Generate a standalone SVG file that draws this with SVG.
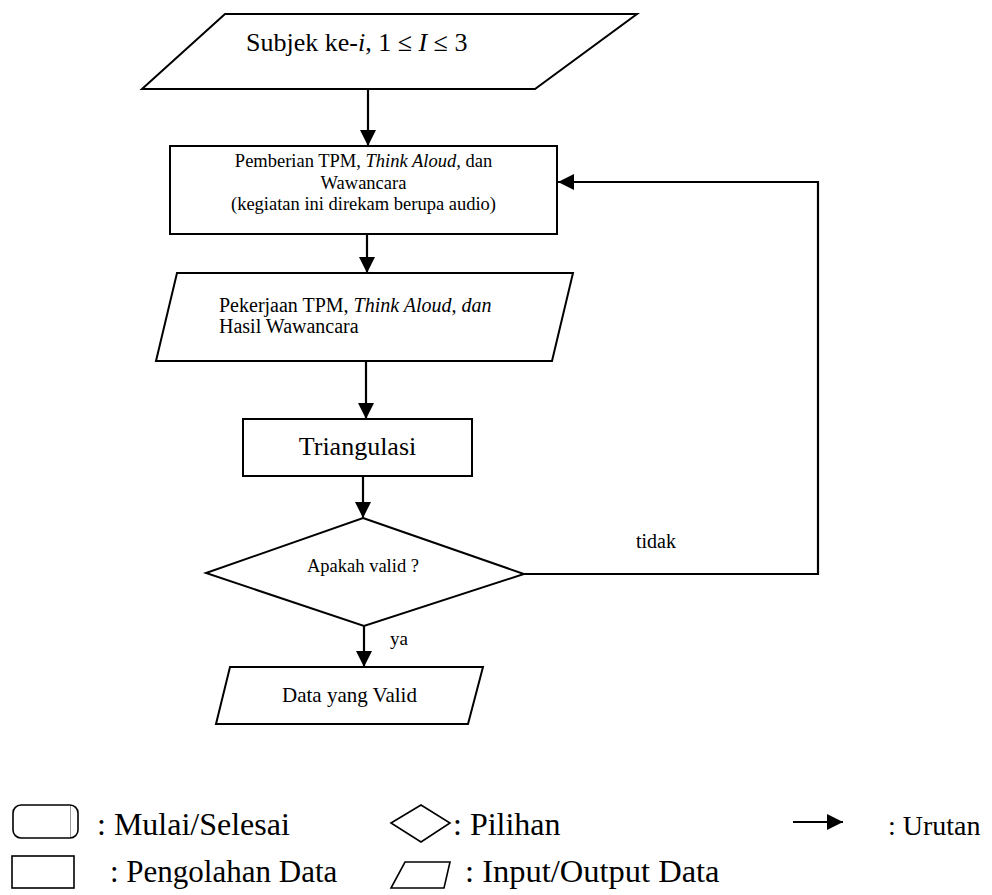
<svg xmlns="http://www.w3.org/2000/svg" width="992" height="895" viewBox="0 0 992 895">
  <style>
    .shape { fill: #ffffff; stroke: #000000; stroke-width: 2; }
    .thin { fill: #ffffff; stroke: #000000; stroke-width: 1.6; }
    .flow { fill: none; stroke: #000000; stroke-width: 2.2; }
    text { font-family: "Liberation Serif", "Times New Roman", serif; fill: #000000; }
    .it { font-style: italic; }
  </style>
  <defs>
    <marker id="arrow" viewBox="0 0 16 16" refX="16" refY="8" markerWidth="16" markerHeight="16" markerUnits="userSpaceOnUse" orient="auto">
      <path d="M0,0 L16,8 L0,16 Z" fill="#000000"/>
    </marker>
  </defs>
  <rect width="992" height="895" fill="#ffffff"/>

  <!-- flow connectors -->
  <g id="connectors">
    <line class="flow" x1="368" y1="89" x2="368" y2="146" marker-end="url(#arrow)"/>
    <line class="flow" x1="367" y1="234" x2="367" y2="273" marker-end="url(#arrow)"/>
    <line class="flow" x1="366" y1="361" x2="366" y2="419" marker-end="url(#arrow)"/>
    <line class="flow" x1="363" y1="476" x2="363" y2="518" marker-end="url(#arrow)"/>
    <line class="flow" x1="364" y1="626" x2="364" y2="667" marker-end="url(#arrow)"/>
    <polyline class="flow" points="524,574 818,574 818,182 558,182" marker-end="url(#arrow)"/>
    <text x="390" y="645" font-size="19">ya</text>
    <text x="636" y="548" font-size="20">tidak</text>
  </g>

  <!-- input: subject -->
  <g id="node-subjek">
    <polygon class="shape" points="225,14 637,14 535,89 142,89"/>
    <text x="246" y="51" font-size="26">Subjek ke-<tspan class="it">i</tspan>, 1 ≤ <tspan class="it">I</tspan> ≤ 3</text>
  </g>

  <!-- process: TPM, think aloud, interview -->
  <g id="node-pemberian">
    <rect class="shape" x="170" y="146" width="387" height="88"/>
    <text x="363.5" y="167" font-size="18.5" text-anchor="middle">Pemberian TPM, <tspan class="it">Think Aloud,</tspan> dan</text>
    <text x="363.5" y="188.5" font-size="18.5" text-anchor="middle">Wawancara</text>
    <text x="363.5" y="210" font-size="18.5" text-anchor="middle">(kegiatan ini direkam berupa audio)</text>
  </g>

  <!-- output: work results -->
  <g id="node-pekerjaan">
    <polygon class="shape" points="177,273 573,273 552,361 156,361"/>
    <text x="219" y="312" font-size="20">Pekerjaan  TPM, <tspan class="it">Think Aloud, dan</tspan></text>
    <text x="219" y="333" font-size="20">Hasil Wawancara</text>
  </g>

  <!-- process: triangulation -->
  <g id="node-triangulasi">
    <rect class="shape" x="243" y="419" width="229" height="57"/>
    <text x="357.5" y="455" font-size="26" text-anchor="middle">Triangulasi</text>
  </g>

  <!-- decision -->
  <g id="node-valid">
    <polygon class="shape" points="363,518 524,574 364,626 206,573"/>
    <text x="363" y="572" font-size="18.5" text-anchor="middle">Apakah valid ?</text>
  </g>

  <!-- output: valid data -->
  <g id="node-data-valid">
    <polygon class="shape" points="230,667 483,667 468,724 216,724"/>
    <text x="349.5" y="702" font-size="21" text-anchor="middle">Data yang Valid</text>
  </g>

  <!-- legend -->
  <g id="legend">
    <rect class="thin" x="13" y="805" width="65" height="33" rx="8"/>
    <line x1="70.5" y1="806" x2="70.5" y2="837" stroke="#999999" stroke-width="1"/>
    <text x="97" y="835" font-size="32">: Mulai/Selesai</text>

    <rect class="thin" x="12" y="856" width="62" height="32"/>
    <text x="110" y="882" font-size="31">: Pengolahan Data</text>

    <polygon class="thin" points="391,823 421,805 450,823 421,842"/>
    <text x="453" y="835" font-size="32">: Pilihan</text>

    <polygon class="thin" points="405,862 450,862 444,888 391,888"/>
    <text x="465" y="882" font-size="32.5">: Input/Output Data</text>

    <line class="flow" x1="793" y1="822" x2="843" y2="822" marker-end="url(#arrow)"/>
    <text x="888" y="835" font-size="28">: Urutan</text>
  </g>
</svg>
